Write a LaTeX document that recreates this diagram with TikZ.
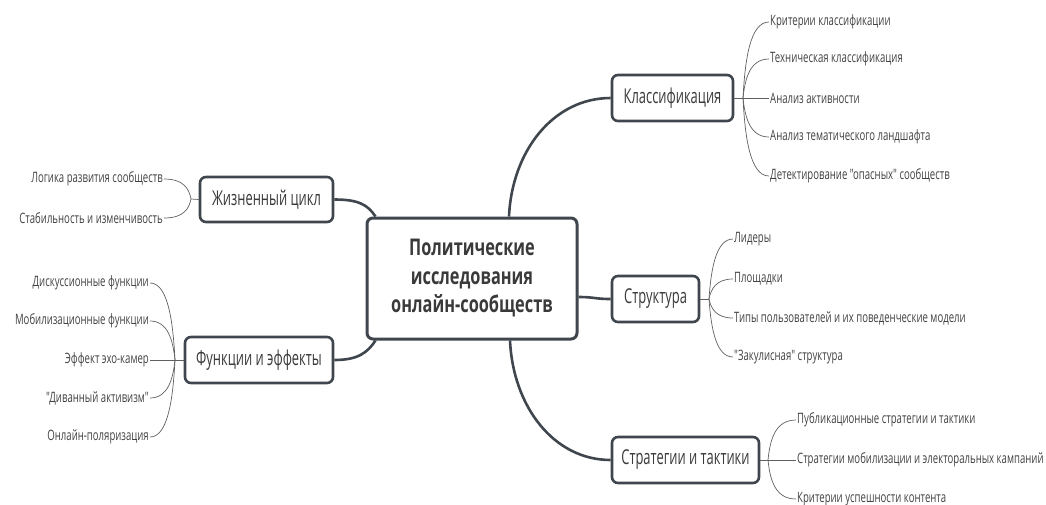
\documentclass[tikz,border=0pt]{standalone}
\usepackage{fontspec}
\setmainfont{Open Sans}[FakeStretch=0.8]
\newfontfamily\centerfont{Open Sans}[FakeStretch=0.71]
\newfontfamily\boxfont{Open Sans}[FakeStretch=0.63]
\newfontfamily\leaffont{Open Sans}[FakeStretch=0.67]
\usetikzlibrary{calc}
\definecolor{boxc}{RGB}{64,70,77}
\definecolor{txtc}{RGB}{58,58,58}
\definecolor{leaftxt}{RGB}{66,66,66}
\definecolor{twigc}{RGB}{95,95,95}
\begin{document}
\begin{tikzpicture}[x=1pt,y=-1pt,
  box/.style={draw=boxc, line width=2.6pt, rounded corners=6pt, fill=white, text=txtc,
    font=\boxfont\fontsize{20.5}{24}\selectfont, inner sep=0pt, minimum height=46pt},
  leafr/.style={anchor=west, inner sep=1pt, text=leaftxt, font=\leaffont\fontsize{14.3}{16}\selectfont},
  leafl/.style={anchor=east, inner sep=1pt, text=leaftxt, font=\leaffont\fontsize{14.3}{16}\selectfont},
  link/.style={draw=boxc, line width=2.6pt},
  twig/.style={draw=twigc, line width=0.7pt}]
\useasboundingbox (0,0) rectangle (1046,504);

% main boxes
\node[box, line width=3pt, minimum width=210pt, minimum height=121pt, align=center,
  font=\centerfont\fontsize{23}{28.5}\selectfont\bfseries] (c) at (472,278.5)
  {Политические\\исследования\\онлайн-сообществ};
\node[box, minimum width=121pt] (k) at (672.5,98) {Классификация};
\node[box, minimum width=87pt] (s) at (655.5,299) {Структура};
\node[box, minimum width=147pt] (t) at (685.5,460) {Стратегии и тактики};
\node[box, minimum width=133pt, minimum height=45pt] (z) at (266.5,199.5) {Жизненный цикл};
\node[box, minimum width=148pt] (f) at (259,360) {Функции и эффекты};

% main links
\draw[link] ($(c.north)+(37,0)$) .. controls +(3,-66) and ($(k.west)+(-57,0)$) .. (k.west);
\draw[link] ($(c.south)+(38,0)$) .. controls +(3,66) and ($(t.west)+(-57,0)$) .. (t.west);
\draw[link] ($(c.east)+(0,18.5)$) .. controls +(16,0) and +(-16,0) .. (s.west);
\draw[link] (z.east) .. controls +(24,0) and +(-8,-12) .. ($(c.north west)+(10,0)$);
\draw[link] (f.east) .. controls +(24,0) and +(-8,12) .. ($(c.south west)+(10,0)$);

% Классификация leaves
\coordinate (kj) at (743,98);
\node[leafr] (k1) at (769,22) {Критерии классификации};
\node[leafr] (k2) at (769,59) {Техническая классификация};
\node[leafr] (k3) at (769,98) {Анализ активности};
\node[leafr] (k4) at (769,137) {Анализ тематического ландшафта};
\node[leafr] (k5) at (769,176) {Детектирование "опасных" сообществ};
\draw[twig] (k.east) -- (kj);
\foreach \n in {k1,k2,k4,k5}
  \draw[twig] (kj) .. controls ($(kj)!0.5!(kj |- \n.west)+(2,0)$) and ($(kj |- \n.west)+(7,0)$) .. (\n.west);
\draw[twig] (kj) -- (k3.west);

% Структура leaves
\coordinate (sj) at (709,299);
\node[leafr] (s1) at (733,239) {Лидеры};
\node[leafr] (s2) at (733,279) {Площадки};
\node[leafr] (s3) at (733,318) {Типы пользователей и их поведенческие модели};
\node[leafr] (s4) at (733,357) {"Закулисная" структура};
\draw[twig] (s.east) -- (sj);
\foreach \n in {s1,s2,s3,s4}
  \draw[twig] (sj) .. controls ($(sj)!0.5!(sj |- \n.west)+(2,0)$) and ($(sj |- \n.west)+(7,0)$) .. (\n.west);

% Стратегии leaves
\coordinate (tj) at (768,460);
\node[leafr] (t1) at (796,420) {Публикационные стратегии и тактики};
\node[leafr] (t2) at (796,460) {Стратегии мобилизации и электоральных кампаний};
\node[leafr] (t3) at (796,499) {Критерии успешности контента};
\draw[twig] (t.east) -- (tj);
\draw[twig] (tj) -- (t2.west);
\foreach \n in {t1,t3}
  \draw[twig] (tj) .. controls ($(tj)!0.5!(tj |- \n.west)+(2,0)$) and ($(tj |- \n.west)+(7,0)$) .. (\n.west);

% Жизненный цикл leaves
\coordinate (zj) at (191,199);
\node[leafl] (z1) at (164,179) {Логика развития сообществ};
\node[leafl] (z2) at (164,218) {Стабильность и изменчивость};
\draw[twig] (z.west) -- (zj);
\foreach \n in {z1,z2}
  \draw[twig] (zj) .. controls ($(zj)!0.5!(zj |- \n.east)+(-2,0)$) and ($(zj |- \n.east)+(-7,0)$) .. (\n.east);

% Функции leaves
\coordinate (fj) at (175,360);
\node[leafl] (f1) at (150,283) {Дискуссионные функции};
\node[leafl] (f2) at (150,321) {Мобилизационные функции};
\node[leafl] (f3) at (150,360) {Эффект эхо-камер};
\node[leafl] (f4) at (150,398) {"Диванный активизм"};
\node[leafl] (f5) at (150,437) {Онлайн-поляризация};
\draw[twig] (f.west) -- (fj);
\draw[twig] (fj) -- (f3.east);
\foreach \n in {f1,f2,f4,f5}
  \draw[twig] (fj) .. controls ($(fj)!0.5!(fj |- \n.east)+(-2,0)$) and ($(fj |- \n.east)+(-7,0)$) .. (\n.east);
\end{tikzpicture}
\end{document}
